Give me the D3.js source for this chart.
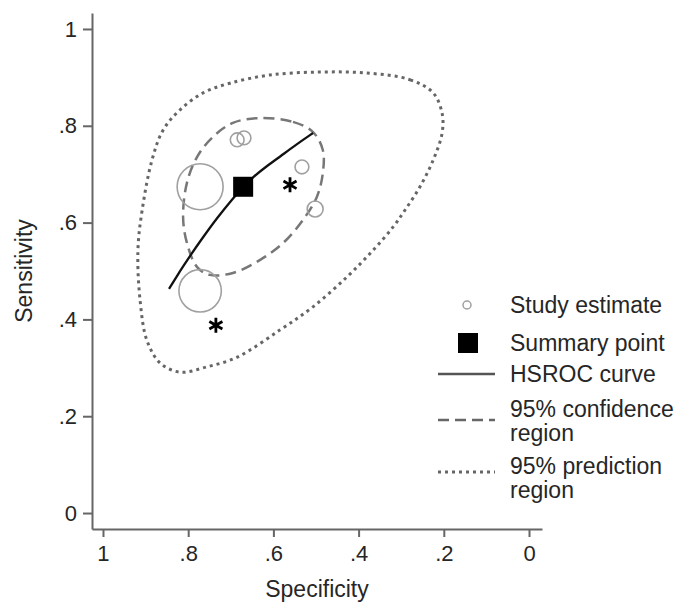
<!DOCTYPE html>
<html>
<head>
    <meta charset="UTF-8">
    <title>HSROC</title>
</head>
<style>
    body { margin: 0; background: #fff; }
    text { font-family: "Liberation Sans", Arial, sans-serif; fill: #262626; }
    .axis path, .axis line { stroke: #666; stroke-width: 2px; }
    .axis text { font-size: 22px; fill: #262626; }
</style>
<body>
<svg width="681" height="605"></svg>
<script src="https://d3js.org/d3.v7.min.js"></script>
<script>

    // study estimates (specificity, sensitivity, weight)
    var studySpec = [0.772, 0.772, 0.685, 0.669, 0.533, 0.502];
    var studySens = [0.674, 0.459, 0.771, 0.775, 0.715, 0.628];
    var studyWeight = [100, 85, 9, 9, 9, 12];

    var summarySpec = 0.671, summarySens = 0.674;

    var hsrocSpec = [0.845, 0.819, 0.796, 0.765, 0.732, 0.695, 0.671, 0.648, 0.615, 0.585, 0.545, 0.507];
    var hsrocSens = [0.463, 0.500, 0.531, 0.570, 0.610, 0.650, 0.674, 0.694, 0.717, 0.736, 0.762, 0.785];

    var confSpec = [0.631, 0.554, 0.507, 0.484, 0.484, 0.498, 0.531, 0.577, 0.631, 0.695, 0.749, 0.779, 0.803, 0.812, 0.803, 0.779, 0.742, 0.695];
    var confSens = [0.816, 0.808, 0.787, 0.750, 0.702, 0.653, 0.605, 0.558, 0.523, 0.496, 0.492, 0.508, 0.558, 0.612, 0.682, 0.736, 0.777, 0.806];

    var predSpec = [0.380, 0.279, 0.225, 0.204, 0.204, 0.225, 0.256, 0.291, 0.319, 0.366, 0.427, 0.507, 0.585, 0.685, 0.756, 0.819, 0.866, 0.897, 0.913, 0.918, 0.908, 0.885, 0.859, 0.819, 0.765, 0.702, 0.608, 0.491];
    var predSens = [0.909, 0.895, 0.868, 0.826, 0.785, 0.729, 0.674, 0.626, 0.591, 0.543, 0.488, 0.426, 0.378, 0.322, 0.302, 0.291, 0.310, 0.357, 0.440, 0.543, 0.626, 0.729, 0.791, 0.833, 0.868, 0.888, 0.905, 0.911];

    // asterisk markers
    var starSpec = [0.561, 0.735];
    var starSens = [0.678, 0.388];

    var ticks = [1, 0.8, 0.6, 0.4, 0.2, 0];

    var legendLabels = [["Study estimate"], ["Summary point"], ["HSROC curve"],
        ["95% confidence", "region"], ["95% prediction", "region"]];

    var svg = d3.select("svg");

    var x = d3.scaleLinear().domain([1.0258, -0.0305]).range([92, 542]);
    var y = d3.scaleLinear().domain([-0.033, 1.033]).range([529, 13]);

    function fmt(d) {
        if (d === 0) return "0";
        if (d === 1) return "1";
        return String(d).replace("0.", ".");
    }

    function pts(a, b) {
        return a.map(function(v, i) { return [v, b[i]]; });
    }

    var line = d3.line()
        .x(function(d) { return x(d[0]); })
        .y(function(d) { return y(d[1]); });

    // axes
    svg.append("g")
        .attr("class", "axis")
        .attr("transform", "translate(0,529)")
        .call(d3.axisBottom(x).tickValues(ticks).tickFormat(fmt).tickSize(8).tickSizeOuter(0).tickPadding(8));

    svg.append("g")
        .attr("class", "axis")
        .attr("transform", "translate(92,0)")
        .call(d3.axisLeft(y).tickValues(ticks).tickFormat(fmt).tickSize(9).tickSizeOuter(0).tickPadding(6));

    svg.append("text")
        .attr("x", 317).attr("y", 597)
        .attr("text-anchor", "middle")
        .style("font-size", "23px")
        .text("Specificity");

    svg.append("text")
        .attr("transform", "translate(32,271) rotate(-90)")
        .attr("text-anchor", "middle")
        .style("font-size", "23px")
        .text("Sensitivity");

    // regions
    svg.append("path")
        .datum(pts(predSpec, predSens))
        .attr("d", line.curve(d3.curveCatmullRomClosed))
        .attr("fill", "none")
        .attr("stroke", "#666")
        .attr("stroke-width", 3)
        .attr("stroke-dasharray", "3,4");

    svg.append("path")
        .datum(pts(confSpec, confSens))
        .attr("d", line.curve(d3.curveCatmullRomClosed))
        .attr("fill", "none")
        .attr("stroke", "#777")
        .attr("stroke-width", 2.5)
        .attr("stroke-dasharray", "11,6");

    // study estimates
    var r = d3.scaleSqrt().domain([0, 100]).range([0, 23]);
    svg.append("g")
        .selectAll("circle")
        .data(pts(studySpec, studySens).map(function(p, i) { return [p[0], p[1], studyWeight[i]]; }))
        .enter().append("circle")
        .attr("cx", function(d) { return x(d[0]); })
        .attr("cy", function(d) { return y(d[1]); })
        .attr("r", function(d) { return r(d[2]); })
        .attr("fill", "none")
        .attr("stroke", "#a0a0a0")
        .attr("stroke-width", 1.6);

    // HSROC curve
    svg.append("path")
        .datum(pts(hsrocSpec, hsrocSens))
        .attr("d", line.curve(d3.curveBasis))
        .attr("fill", "none")
        .attr("stroke", "#111")
        .attr("stroke-width", 2.3);

    // summary point
    svg.append("rect")
        .attr("x", x(summarySpec) - 10)
        .attr("y", y(summarySens) - 10)
        .attr("width", 20).attr("height", 20)
        .attr("fill", "#000");

    // asterisks
    svg.append("g")
        .selectAll("path")
        .data(pts(starSpec, starSens))
        .enter().append("path")
        .attr("transform", function(d) { return "translate(" + x(d[0]) + "," + y(d[1]) + ")"; })
        .attr("d", d3.symbol(d3.symbolAsterisk, 160))
        .attr("fill", "none")
        .attr("stroke", "#000")
        .attr("stroke-width", 2.8);

    // legend
    var legY = [305, 343, 374, 420, 472];
    var lg = svg.append("g");

    lg.append("circle").attr("cx", 467).attr("cy", legY[0]).attr("r", 4)
        .attr("fill", "none").attr("stroke", "#a0a0a0").attr("stroke-width", 1.5);
    lg.append("rect").attr("x", 458).attr("y", legY[1] - 10).attr("width", 20).attr("height", 20).attr("fill", "#000");
    lg.append("line").attr("x1", 438).attr("x2", 495).attr("y1", legY[2]).attr("y2", legY[2])
        .attr("stroke", "#555").attr("stroke-width", 2.5);
    lg.append("line").attr("x1", 438).attr("x2", 495).attr("y1", legY[3]).attr("y2", legY[3])
        .attr("stroke", "#666").attr("stroke-width", 2.5).attr("stroke-dasharray", "11,6");
    lg.append("line").attr("x1", 438).attr("x2", 495).attr("y1", legY[4]).attr("y2", legY[4])
        .attr("stroke", "#666").attr("stroke-width", 3).attr("stroke-dasharray", "3,4");

    var textY = [305, 343, 374, 409, 466];
    legendLabels.forEach(function(lines, i) {
        var t = lg.append("text")
            .attr("x", 510)
            .attr("y", textY[i])
            .style("font-size", "23px");
        lines.forEach(function(s, j) {
            t.append("tspan").attr("x", 510).attr("dy", j === 0 ? "0.35em" : "24px").text(s);
        });
    });

</script>
</body>
</html>
